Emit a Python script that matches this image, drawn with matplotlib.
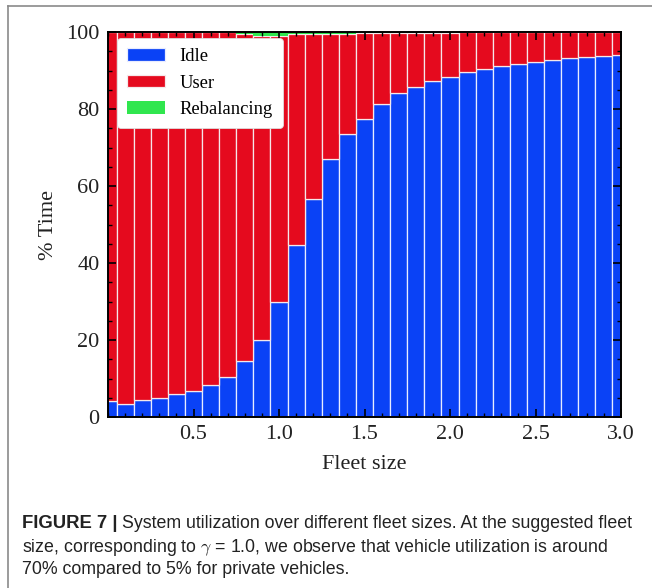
import matplotlib
matplotlib.use("Agg")
import matplotlib.pyplot as plt
from matplotlib.ticker import MultipleLocator
from matplotlib.lines import Line2D

fleet_size = [0.0, 0.1, 0.2, 0.3, 0.4, 0.5, 0.6, 0.7, 0.8, 0.9, 1.0,
              1.1, 1.2, 1.3, 1.4, 1.5, 1.6, 1.7, 1.8, 1.9, 2.0,
              2.1, 2.2, 2.3, 2.4, 2.5, 2.6, 2.7, 2.8, 2.9, 3.0]
idle = [4.2, 3.5, 4.3, 5.0, 6.0, 6.8, 8.4, 10.4, 14.5, 20.1, 30.0,
        44.6, 56.5, 67.0, 73.6, 77.5, 81.4, 84.1, 85.8, 87.2, 88.4,
        89.6, 90.4, 91.1, 91.7, 92.3, 92.8, 93.2, 93.4, 93.7, 94.0]
rebalancing = [0.0, 0.0, 0.0, 0.0, 0.0, 0.0, 0.0, 0.1, 0.4, 1.0, 1.1,
               0.6, 0.5, 0.4, 0.4, 0.3, 0.3, 0.3, 0.3, 0.3, 0.3,
               0.1, 0.1, 0.1, 0.1, 0.1, 0.1, 0.1, 0.1, 0.1, 0.1]
user = [100 - i - r for i, r in zip(idle, rebalancing)]

C_IDLE = "#0a42f6"
C_USER = "#e50a1e"
C_REB = "#30e64e"

plt.rcParams["mathtext.fontset"] = "cm"
SERIF = "Liberation Serif"
SANS = "Liberation Sans"

fig = plt.figure(figsize=(6.52, 5.88), dpi=100)
ax = fig.add_axes([108/652, 1-417/588, (621-108)/652, (417-32)/588])

ax.bar(fleet_size, idle, width=0.1, color=C_IDLE, edgecolor="#e8ecff", linewidth=0.9, label="Idle")
ax.bar(fleet_size, user, width=0.1, bottom=idle, color=C_USER, edgecolor="#f5e8ea", linewidth=0.9, label="User")
bot2 = [i + u for i, u in zip(idle, user)]
ax.bar(fleet_size, rebalancing, width=0.1, bottom=bot2, color=C_REB, edgecolor="none", linewidth=0, label="Rebalancing")

ax.set_xlim(0, 3.0)
ax.set_ylim(0, 100)
ax.xaxis.set_minor_locator(MultipleLocator(0.1))
ax.yaxis.set_major_locator(MultipleLocator(20))
ax.yaxis.set_minor_locator(MultipleLocator(5))
ax.set_xticks([0.5, 1.0, 1.5, 2.0, 2.5, 3.0])
ax.set_xticklabels(["0.5", "1.0", "1.5", "2.0", "2.5", "3.0"])
ax.tick_params(which="both", direction="in", top=True, right=True, color="black")
ax.tick_params(which="major", length=6, width=1.2, labelsize=16, pad=6)
ax.tick_params(which="minor", length=3, width=1.0)
for lab in ax.get_xticklabels() + ax.get_yticklabels():
    lab.set_fontfamily(SERIF)
    lab.set_color("#222222")
for s in ax.spines.values():
    s.set_linewidth(1.4)

ax.set_xlabel("Fleet size", fontfamily=SERIF, fontsize=16, color="#222222", labelpad=8)
ax.set_ylabel("% Time", fontfamily=SERIF, fontsize=16, color="#222222", labelpad=6)

leg = ax.legend(loc="upper left", bbox_to_anchor=(9/513, 1-6/385), prop={"family": SERIF, "size": 13.4},
                frameon=True, fancybox=True, edgecolor="#dddddd", framealpha=1.0,
                handlelength=2.05, handleheight=0.65, labelspacing=0.5, handletextpad=0.75,
                borderpad=0.55, borderaxespad=0.0)
leg.get_frame().set_linewidth(0.6)

# figure frame (top and left)
fig.add_artist(Line2D([8/652, 1.0], [1-6/588, 1-6/588], color="#8a8a8a", lw=1.2, transform=fig.transFigure))
fig.add_artist(Line2D([8/652, 8/652], [0, 1-6/588], color="#8a8a8a", lw=1.2, transform=fig.transFigure))

# caption
fs = 12.8
x0 = 22/652
y1 = 1-524/588
t_bold = fig.text(x0, y1, "FIGURE 7 |", fontfamily=SANS, fontweight="bold", fontsize=13.3, color="#222222", va="center")
fig.canvas.draw()
bb = t_bold.get_window_extent()
fig.text((bb.x1 + 5)/652, y1, "System utilization over different fleet sizes. At the suggested fleet",
         fontfamily=SANS, fontsize=fs, color="#222222", va="center")
fig.text(x0, 1-547/588, r"size, corresponding to $\gamma$ = 1.0, we observe that vehicle utilization is around",
         fontfamily=SANS, fontsize=fs, color="#222222", va="center")
fig.text(x0, 1-570/588, "70% compared to 5% for private vehicles.",
         fontfamily=SANS, fontsize=fs, color="#222222", va="center")

fig.savefig("out.png", dpi=100)
